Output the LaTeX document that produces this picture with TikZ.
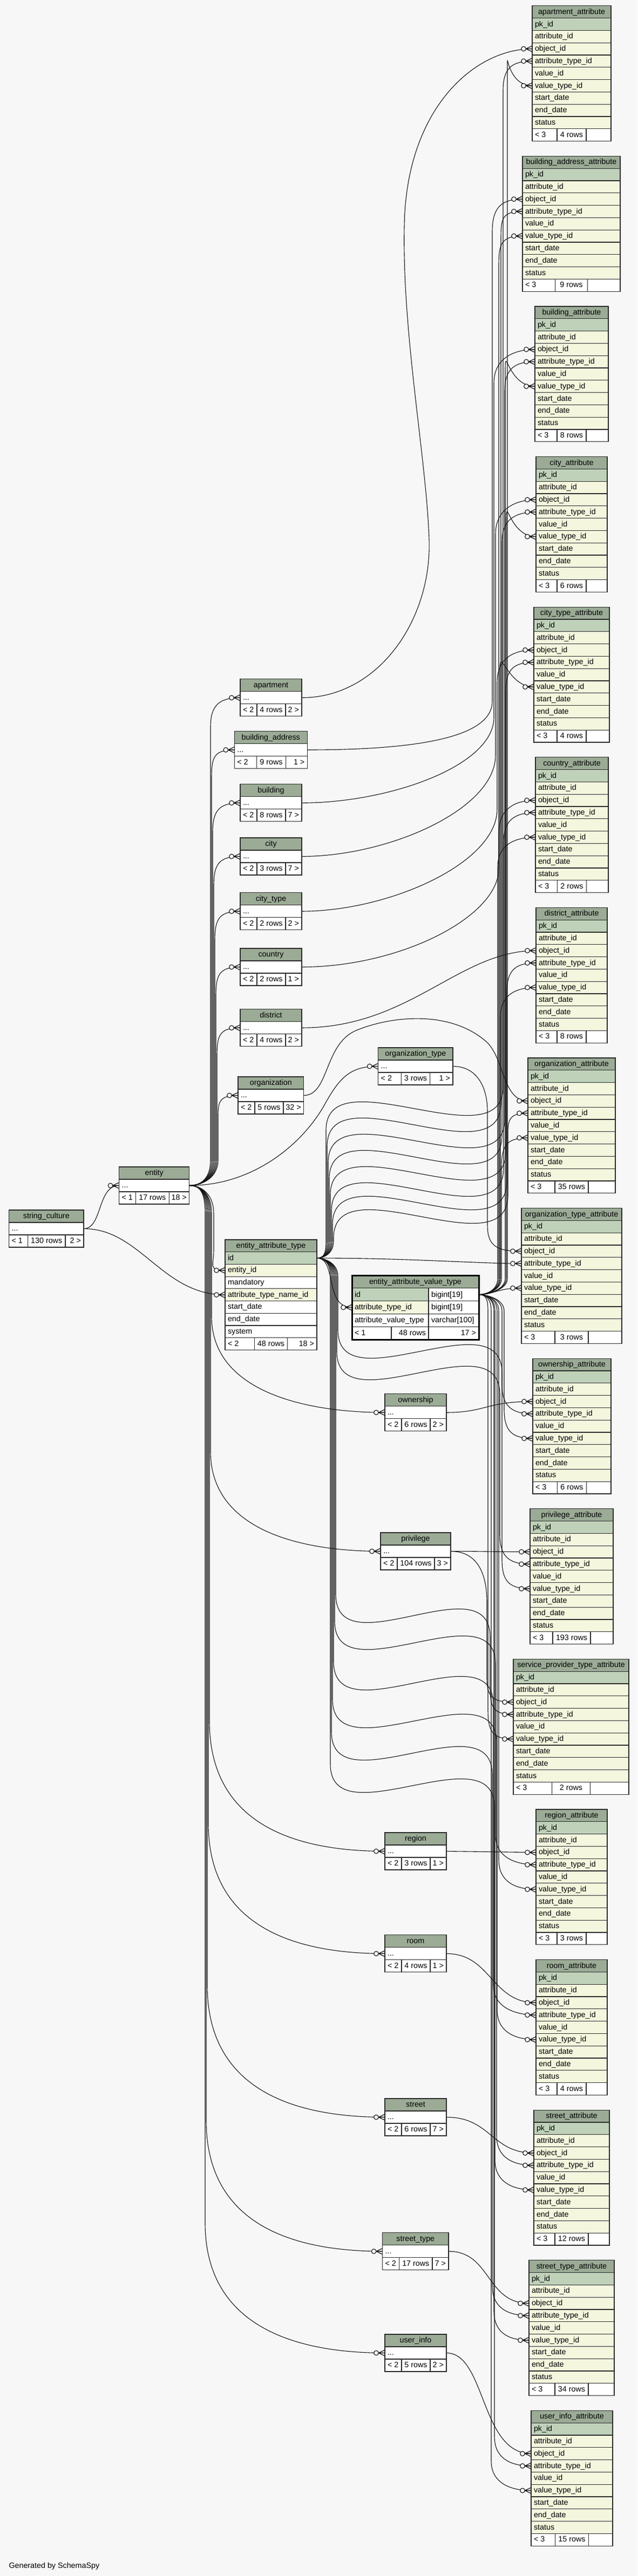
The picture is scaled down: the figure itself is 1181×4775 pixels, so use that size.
\documentclass[tikz,border=0pt]{standalone}
\usepackage{fontspec}
\setmainfont{Liberation Sans}
\tikzset{every picture/.style={line width=1pt}}

\definecolor{bgcol}{HTML}{F7F7F7}
\definecolor{hdrcol}{HTML}{9BAB96}
\definecolor{pkcol}{HTML}{BFD1B9}
\definecolor{fkcol}{HTML}{F4F6DD}
\definecolor{tblborder}{HTML}{2B2B2B}
\definecolor{linecol}{HTML}{141414}

\pgfdeclarelayer{background}
\pgfsetlayers{background,main}

\newcommand{\tf}{\fontsize{14.3pt}{17pt}\selectfont}
\tikzset{
  cellbox/.style={draw=tblborder, line width=1.2pt},
  celltext/.style={anchor=base west, inner sep=0pt, font=\tf, text=black},
  fk/.style={draw=linecol, line width=1.1pt},
  crow/.pic={
    \draw[draw=linecol, line width=1.1pt, fill=bgcol] (-16,0) circle[radius=4.3];
    \draw[draw=linecol, line width=1.2pt] (-11.7,0) -- (0,-5.5) (-11.7,0) -- (0,0) (-11.7,0) -- (0,5.5);
  }
}

% header + field rows of a table
\newcommand{\fieldtable}[7]{% name, title, left, top, width, row height, fields
  \draw[cellbox, fill=hdrcol] (#3,#4) rectangle ++(#5,#6);
  \node[celltext, anchor=base] (#1) at (#3+#5/2,#4+0.68*#6) {#2};
  \foreach \f/\fc [count=\i] in {#7} {
    \draw[cellbox, fill=\fc] (#3,#4+\i*#6) rectangle ++(#5,#6);
    \node[celltext] (#1-f\i) at (#3+4.5,#4+\i*#6+0.68*#6) {\f};
  }
}
% footer row: parents / rows / children
\newcommand{\footrow}[9]{% name, left, top, left cell, middle cell, right cell, texts
  \draw[cellbox, fill=white] (#2,#3) rectangle ++(#4,\rh);
  \draw[cellbox, fill=white] (#2+#4,#3) rectangle ++(#5,\rh);
  \draw[cellbox, fill=white] (#2+#4+#5,#3) rectangle ++(#6,\rh);
  \node[celltext] (#1-lt) at (#2+4.5,#3+0.68*\rh) {#7};
  \node[celltext, anchor=base] (#1-rows) at (#2+#4+#5/2,#3+0.68*\rh) {#8};
  \node[celltext, anchor=base east] (#1-gt) at (#2+#4+#5+#6-4.5,#3+0.68*\rh) {#9};
}
% the *_attribute tables
\newcommand{\attrtable}[7]{% name, title, left, top, width, rows, middle cell
  \def\rh{22.8}
  \fieldtable{#1}{#2}{#3}{#4}{#5}{\rh}{pk\_id/pkcol, attribute\_id/fkcol, object\_id/fkcol, attribute\_type\_id/fkcol, value\_id/fkcol, value\_type\_id/fkcol, start\_date/fkcol, end\_date/fkcol, status/fkcol}
  \pgfmathsetmacro\sidew{(#5-#7)/2}
  \footrow{#1}{#3}{#4+10*\rh}{\sidew}{#7}{\sidew}{< 3}{#6 rows}{}
  \coordinate (#1-obj) at (#3,#4+3.5*\rh);
  \coordinate (#1-atype) at (#3,#4+4.5*\rh);
  \coordinate (#1-vtype) at (#3,#4+6.5*\rh);
  \pic at (#1-obj) {crow};
  \pic at (#1-atype) {crow};
  \pic at (#1-vtype) {crow};
}
% collapsed tables with a "..." row
\newcommand{\objleft}{< 2}
\newcommand{\objtable}[9]{% name, title, left, top, left cell, middle cell, right cell, rows, children
  \def\rh{23}
  \pgfmathsetmacro\tw{#5+#6+#7}
  \draw[cellbox, fill=hdrcol] (#3,#4) rectangle ++(\tw,\rh);
  \node[celltext, anchor=base] (#1) at (#3+\tw/2,#4+0.68*\rh) {#2};
  \draw[cellbox, fill=white] (#3,#4+\rh) rectangle ++(\tw,\rh);
  \node[celltext] (#1-f1) at (#3+4.5,#4+1.68*\rh) {...};
  \footrow{#1}{#3}{#4+2*\rh}{#5}{#6}{#7}{\objleft}{#8}{#9}
  \coordinate (#1-in) at (#3,#4+1.5*\rh);
  \coordinate (#1-out) at (#3+\tw,#4+1.5*\rh);
}

\begin{document}
\begin{tikzpicture}[x=1pt,y=-1pt]
\useasboundingbox (0,0) rectangle (1181,4775);

%Attribute tables (right column)
\attrtable{apartment-attr}{apartment\_attribute}{986}{10.7}{146}{4}{54}
\attrtable{building-address-attr}{building\_address\_attribute}{968}{289.3}{181}{9}{60}
\attrtable{building-attr}{building\_attribute}{991}{567.9}{136}{8}{54}
\attrtable{city-attr}{city\_attribute}{993}{846.5}{132}{6}{54}
\attrtable{city-type-attr}{city\_type\_attribute}{989}{1125.1}{140}{4}{54}
\attrtable{country-attr}{country\_attribute}{992}{1403.7}{135}{2}{54}
\attrtable{district-attr}{district\_attribute}{993}{1682.3}{132}{8}{54}
\attrtable{organization-attr}{organization\_attribute}{978}{1960.9}{162}{35}{62}
\attrtable{organization-type-attr}{organization\_type\_attribute}{966}{2239.5}{186}{3}{62}
\attrtable{ownership-attr}{ownership\_attribute}{987}{2518.1}{145}{6}{54}
\attrtable{privilege-attr}{privilege\_attribute}{982}{2796.7}{154}{193}{70}
\attrtable{service-provider-type-attr}{service\_provider\_type\_attribute}{951}{3075.3}{214}{2}{71}
\attrtable{region-attr}{region\_attribute}{993}{3353.9}{132}{3}{54}
\attrtable{room-attr}{room\_attribute}{993}{3632.5}{132}{4}{54}
\attrtable{street-attr}{street\_attribute}{989}{3911.1}{140}{12}{62}
\attrtable{street-type-attr}{street\_type\_attribute}{980}{4189.7}{158}{34}{62}
\attrtable{user-info-attr}{user\_info\_attribute}{984}{4468.3}{151}{15}{62}

%Collapsed tables
\renewcommand{\objleft}{< 1}
\objtable{string-culture}{string\_culture}{16.6}{2243}{34.8}{69.6}{34}{130 rows}{2 >}
\objtable{entity}{entity}{220.6}{2163}{31}{61.5}{37.7}{17 rows}{18 >}
\renewcommand{\objleft}{< 2}
\objtable{apartment}{apartment}{445}{1258.8}{31}{53}{30}{4 rows}{2 >}
\objtable{building-address}{building\_address}{434.3}{1355.5}{41.4}{53.6}{40}{9 rows}{1 >}
\objtable{building}{building}{445}{1453.8}{31}{53}{30}{8 rows}{7 >}
\objtable{city}{city}{445}{1553}{31}{53}{30}{3 rows}{7 >}
\objtable{city-type}{city\_type}{445}{1654.7}{31}{53}{30}{2 rows}{2 >}
\objtable{country}{country}{445}{1758}{31}{53}{30}{2 rows}{1 >}
\objtable{district}{district}{445}{1870.7}{31}{53}{30}{4 rows}{2 >}
\objtable{organization}{organization}{441}{1996}{31}{53}{37.7}{5 rows}{32 >}
\objtable{organization-type}{organization\_type}{700.7}{1942}{42.6}{53.4}{42.3}{3 rows}{1 >}
\objtable{ownership}{ownership}{713}{2583.7}{31}{53}{30}{6 rows}{2 >}
\objtable{privilege}{privilege}{705}{2841}{31}{69}{30}{104 rows}{3 >}
\objtable{region}{region}{713}{3397}{31}{53}{30}{3 rows}{1 >}
\objtable{room}{room}{713}{3586.8}{31}{53}{30}{4 rows}{1 >}
\objtable{street}{street}{713}{3890}{31}{53}{30}{6 rows}{7 >}
\objtable{street-type}{street\_type}{708.6}{4138.6}{31}{61.4}{30}{17 rows}{7 >}
\objtable{user-info}{user\_info}{713}{4327}{31}{53}{30}{5 rows}{2 >}

%entity_attribute_type
\def\rh{22.7}
\fieldtable{eat}{entity\_attribute\_type}{417}{2298}{170}{\rh}{id/pkcol, entity\_id/fkcol, mandatory/white, attribute\_type\_name\_id/fkcol, start\_date/white, end\_date/white, system/white}
\footrow{eat}{417}{2298+8*\rh}{54.5}{61}{54.5}{< 2}{48 rows}{18 >}
\coordinate (eat-id) at (587,2298+1.5*\rh);
\coordinate (eat-entity) at (417,2298+2.5*\rh);
\coordinate (eat-atname) at (417,2298+4.5*\rh);

%entity_attribute_value_type (two columns, bold frame)
\def\rh{23.8}
\draw[cellbox, fill=hdrcol] (652,2364) rectangle ++(235,\rh);
\node[celltext, anchor=base] (eavt) at (769.5,2364+0.68*\rh) {entity\_attribute\_value\_type};
\foreach \nm/\tp/\fc [count=\i] in {id/bigint[19]/pkcol, attribute\_type\_id/bigint[19]/fkcol, attribute\_value\_type/varchar[100]/white} {
  \draw[cellbox, fill=\fc] (652,2364+\i*\rh) rectangle ++(142,\rh);
  \draw[cellbox, fill=white] (794,2364+\i*\rh) rectangle ++(93,\rh);
  \node[celltext] (eavt-f\i) at (656.5,2364+\i*\rh+0.68*\rh) {\nm};
  \node[celltext] (eavt-t\i) at (798.5,2364+\i*\rh+0.68*\rh) {\tp};
}
\draw[cellbox, fill=white] (652,2459.2) rectangle ++(73,\rh);
\draw[cellbox, fill=white] (725,2459.2) rectangle ++(69,\rh);
\draw[cellbox, fill=white] (794,2459.2) rectangle ++(93,\rh);
\node[celltext] (eavt-lt) at (656.5,2459.2+0.68*\rh) {< 1};
\node[celltext, anchor=base east] (eavt-rows) at (789.5,2459.2+0.68*\rh) {48 rows};
\node[celltext, anchor=base east] (eavt-gt) at (882.5,2459.2+0.68*\rh) {17 >};
\draw[draw=black, line width=3pt] (652,2364) rectangle (887,2483);
\coordinate (eavt-id) at (887,2399.7);
\coordinate (eavt-atype) at (652,2423.5);

%crow's feet on the collapsed tables
\foreach \p in {entity-in, apartment-in, building-address-in, building-in, city-in, city-type-in, country-in, district-in, organization-in, organization-type-in, ownership-in, privilege-in, region-in, room-in, street-in, street-type-in, user-info-in, eat-entity, eat-atname, eavt-atype}
  \pic at (\p) {crow};

% Text Node
\node[celltext] (credit) at (16,4760) {Generated by SchemaSpy};

\begin{pgfonlayer}{background}
\fill[bgcol] (0,0) rectangle (1181,4775);

%string_culture
\draw[fk] (string-culture-out) .. controls (190,2277.5) and (180,2197.5) .. (entity-in);
\draw[fk] (string-culture-out) .. controls (260,2277.5) and (300,2400.2) .. (eat-atname);

%entity to its children
\foreach \tg/\cx/\ty/\tx in {apartment/390/1293.3/445, building-address/392/1390/434.3, building/394/1488.3/445, city/396/1587.5/445, city-type/398/1689.2/445, country/400/1792.5/445, district/402/1905.2/445, organization/404/2030.5/441}
  \draw[fk] (entity-out) .. controls (372,2197.5) and (\cx,2185) .. (\cx,2150) -- (\cx,\ty+55) .. controls (\cx,\ty+15) and (\tx-40,\ty) .. (\tg-in);
\foreach \tg/\cx/\yb/\ty/\tx in {ownership/392/2440/2618.2/713, privilege/390/2690/2875.5/705, region/388/3190/3431.5/713, room/386/3380/3621.3/713, street/384/3680/3924.5/713, street-type/382/3930/4173.1/708.6, user-info/380/4120/4361.5/713}
  \draw[fk] (entity-out) .. controls (372,2197.5) and (\cx,2212) .. (\cx,2250) -- (\cx,\yb) .. controls (\cx,\ty-40) and (\tx-150,\ty) .. (\tg-in);
\draw[fk] (entity-out) .. controls (372,2197.5) and (396,2212) .. (396,2250) -- (396,2318) .. controls (396,2345) and (385,2354.8) .. (eat-entity);
\draw[fk] (entity-out) .. controls (470,2197.5) and (560,2120) .. (600,2050) .. controls (630,1995) and (650,1976.5) .. (organization-type-in);

%object_id links
\draw[fk] (apartment-out) .. controls (700,1293.3) and (800,1150) .. (795,1000) .. controls (790,850) and (745,620) .. (749,420) .. controls (752,200) and (880,90.5) .. (apartment-attr-obj);
\draw[fk] (building-address-out) .. controls (760,1390) and (912,1370) .. (912,1300) -- (912,430) .. controls (912,385) and (928,369.1) .. (building-address-attr-obj);
\draw[fk] (building-out) .. controls (720,1488.3) and (915,1420) .. (915,1330) -- (915,710) .. controls (915,665) and (951,647.7) .. (building-attr-obj);
\draw[fk] (city-out) .. controls (720,1587.5) and (918,1500) .. (918,1400) -- (918,990) .. controls (918,945) and (953,926.3) .. (city-attr-obj);
\draw[fk] (city-type-out) .. controls (720,1689.2) and (921,1600) .. (921,1500) -- (921,1265) .. controls (921,1222) and (949,1204.9) .. (city-type-attr-obj);
\draw[fk] (country-out) .. controls (740,1792.5) and (924,1700) .. (924,1610) -- (924,1545) .. controls (924,1500) and (952,1483.5) .. (country-attr-obj);
\draw[fk] (district-out) .. controls (760,1905.2) and (850,1762.1) .. (district-attr-obj);
\draw[fk] (organization-out) .. controls (610,2030.5) and (600,1935) .. (660,1910) .. controls (720,1885) and (830,1870) .. (900,1930) .. controls (935,1960) and (930,2040.7) .. (organization-attr-obj);
\draw[fk] (organization-type-out) .. controls (880,1976.5) and (903,2010) .. (903,2060) -- (903,2270) .. controls (903,2310) and (920,2319.3) .. (organization-type-attr-obj);
\draw[fk] (ownership-out) .. controls (900,2618.2) and (900,2597.9) .. (ownership-attr-obj);
\draw[fk] (privilege-out) .. controls (900,2875.5) and (900,2876.5) .. (privilege-attr-obj);
\draw[fk] (privilege-out) .. controls (880,2875.5) and (902,2910) .. (902,2970) -- (902,3110) .. controls (902,3145) and (912,3155.1) .. (service-provider-type-attr-obj);
\draw[fk] (region-out) -- (region-attr-obj);
\draw[fk] (room-out) .. controls (910,3621.3) and (910,3712.3) .. (room-attr-obj);
\draw[fk] (street-out) .. controls (910,3924.5) and (910,3990.9) .. (street-attr-obj);
\draw[fk] (street-type-out) .. controls (910,4173.1) and (900,4269.5) .. (street-type-attr-obj);
\draw[fk] (user-info-out) .. controls (900,4361.5) and (890,4548.1) .. (user-info-attr-obj);

%attribute_type_id links
\draw[fk] (eat-id) .. controls (625,2332) and (600,2423.5) .. (eavt-atype);
\foreach \tg/\ca/\yc/\cb/\ty/\tx in {apartment-attr/604/2035/932/113.3/986, building-address-attr/606/2065/928/391.9/968, building-attr/608/2095/935/670.5/991, city-attr/610/2125/930/949.1/993, city-type-attr/612/2155/937/1227.7/989, country-attr/614/2185/933/1506.3/992, district-attr/616/2210/939/1784.9/993, organization-attr/618/2235/941/2063.5/978}
  \draw[fk] (eat-id) .. controls (600,2332) and (\ca,2324) .. (\ca,2300) -- (\ca,\yc+60) .. controls (\ca,\yc-80) and (\cb,\yc+120) .. (\cb,\yc-20) -- (\cb,\ty+55) .. controls (\cb,\ty+15) and (\tx-40,\ty) .. (\tg-atype);
\draw[fk] (eat-id) .. controls (760,2332) and (880,2342.1) .. (organization-type-attr-atype);
\foreach \tg/\ca/\yc/\cb/\ty/\tx in {ownership-attr/626/2525/930/2620.7/987, privilege-attr/624/2565/926/2899.3/982, service-provider-type-attr/622/3015/908/3177.9/951, region-attr/620/3065/918/3456.5/993, room-attr/618/3140/914/3735.1/993, street-attr/616/3210/920/4013.7/989, street-type-attr/614/3270/912/4292.3/980, user-info-attr/612/3330/916/4570.9/984}
  \draw[fk] (eat-id) .. controls (600,2332) and (\ca,2340) .. (\ca,2366) -- (\ca,\yc-60) .. controls (\ca,\yc+80) and (\cb,\yc-120) .. (\cb,\yc+20) -- (\cb,\ty-55) .. controls (\cb,\ty-15) and (\tx-40,\ty) .. (\tg-atype);

%value_type_id links
\foreach \tg/\cb/\ty/\tx in {building-address-attr/924/437.5/968, country-attr/922/1551.9/992, district-attr/927/1830.5/993, organization-attr/929/2109.1/978}
  \draw[fk] (eavt-id) .. controls (900,2399.7) and (\cb,2392) .. (\cb,2370) -- (\cb,\ty+55) .. controls (\cb,\ty+15) and (\tx-40,\ty) .. (\tg-vtype);
\foreach \tg/\cb/\ty/\tx in {apartment-attr/940/158.9/986, building-attr/936/716.1/991, city-attr/938/994.7/993, city-type-attr/926/1273.3/989}
  \draw[fk] (eavt-id) .. controls (900,2399.7) and (\cb,2392) .. (\cb,2370) -- (\cb,\ty-30) .. controls (\cb,\ty-80) and (\tx-50,\ty) .. (\tg-vtype);
\draw[fk] (eavt-id) .. controls (915,2399.7) and (920,2387.7) .. (organization-type-attr-vtype);
\foreach \tg/\cb/\ty/\tx in {ownership-attr/934/2666.3/987, privilege-attr/930/2944.9/982, service-provider-type-attr/904/3223.5/951, region-attr/924/3502.1/993, room-attr/921/3780.7/993, street-attr/917/4059.3/989, street-type-attr/915/4337.9/980, user-info-attr/910/4616.5/984}
  \draw[fk] (eavt-id) .. controls (900,2399.7) and (\cb,2407) .. (\cb,2430) -- (\cb,\ty-55) .. controls (\cb,\ty-15) and (\tx-40,\ty) .. (\tg-vtype);
\end{pgfonlayer}
\end{tikzpicture}
\end{document}
